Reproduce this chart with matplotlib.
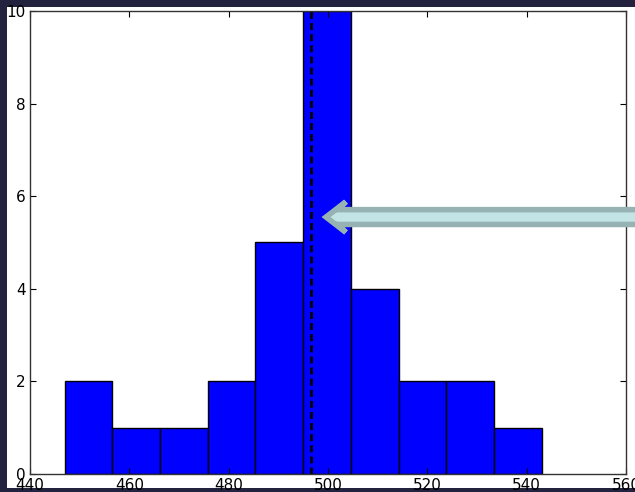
import matplotlib
matplotlib.use("Agg")
import matplotlib.pyplot as plt
import numpy as np
from matplotlib.patches import FancyArrow, Rectangle

# Data
bin_edges = [447.0, 456.6, 466.2, 475.8, 485.4, 495.0, 504.6, 514.2, 523.8, 533.4, 543.0]
counts = [2, 1, 1, 2, 5, 10, 4, 2, 2, 1]
mean_value = 496.5
arrow_tip = (499.6, 5.55)
x_ticks = [440, 460, 480, 500, 520, 540, 560]
y_ticks = [0, 2, 4, 6, 8, 10]

fig = plt.figure(figsize=(6.35, 4.92), dpi=100, facecolor="#24233f")
# white slide area
bg = Rectangle((7 / 635, 4 / 492), 1 - 7 / 635, 1 - 11 / 492,
               transform=fig.transFigure, facecolor="white",
               edgecolor="none", zorder=-10)
fig.patches.append(bg)
ax = fig.add_axes([30 / 635, 18 / 492, 596 / 635, 463 / 492])
ax.set_zorder(1)

edges = np.array(bin_edges)
ax.bar(edges[:-1], counts, width=np.diff(edges), align="edge",
       color="#0000ff", edgecolor="black", linewidth=1.0)
ax.axvline(mean_value, color="black", linewidth=2, linestyle=(0, (2.5, 1.5)))

ax.set_xlim(440, 560)
ax.set_ylim(0, 10)
ax.set_xticks(x_ticks)
ax.set_yticks(y_ticks)
ax.tick_params(direction="in", length=4, width=0.8, top=True, right=True,
               labelsize=11, pad=3, colors="black")
for s in ax.spines.values():
    s.set_linewidth(1.0)
    s.set_color("#333333")

arr = FancyArrow(580, arrow_tip[1], arrow_tip[0] - 580, 0, width=0.32,
                 head_width=0.66, head_length=4.0, overhang=0.4,
                 length_includes_head=True, facecolor="#c2e4e5",
                 edgecolor="#97b2b3", linewidth=4.0, clip_on=False,
                 joinstyle="miter", zorder=5)
ax.add_patch(arr)

fig.savefig("out.png", dpi=100, facecolor=fig.get_facecolor())
